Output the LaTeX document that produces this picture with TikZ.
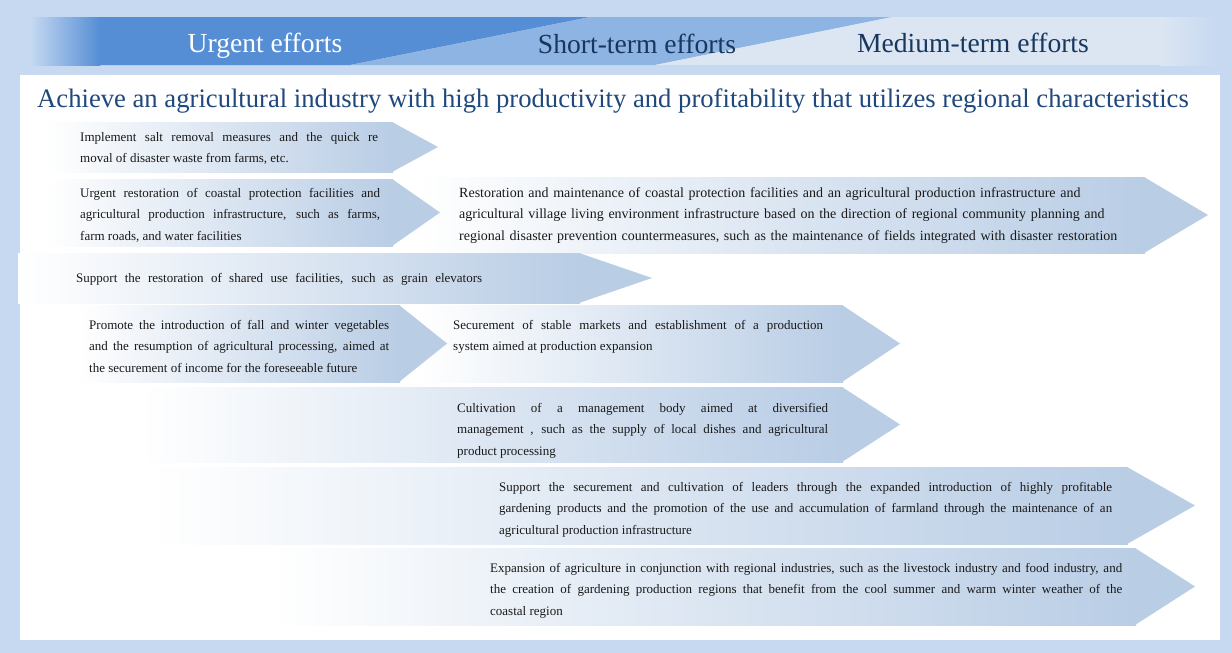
\documentclass[tikz,border=0pt]{standalone}
\usepackage{fontspec}
\setmainfont{Liberation Serif}
\usepackage{xcolor}
\usetikzlibrary{positioning}
\definecolor{pagebg}{HTML}{C6D9F1}
\definecolor{urgentblue}{HTML}{558ED5}
\definecolor{shortblue}{HTML}{8EB4E3}
\definecolor{mediumblue}{HTML}{DCE6F2}
\definecolor{arrowblue}{HTML}{B9CDE5}
\definecolor{titleblue}{HTML}{1F497D}
\definecolor{headnavy}{HTML}{17375E}

% arrow: left, top, body end, tip, bottom
\newcommand{\effortarrow}[5]{%
  \fill[arrowblue] (#3-1,#2) -- (#4,{(#2+#5)/2}) -- (#3-1,#5) -- cycle;
  \shade[left color=white,right color=arrowblue] (#1,#2) rectangle (#3,#5);}

\begin{document}
\begin{tikzpicture}[
    x=1pt,y=-1pt,
    headlabel/.style={anchor=base,inner sep=0pt,font=\fontsize{27.6}{30}\selectfont},
    measure/.style={anchor=base west,inner sep=0pt,align=justify,text=black!90,
      font=\fontsize{13}{21.7}\selectfont},
    oneline/.style={measure,execute at begin node={\parfillskip=0pt}}
]
\useasboundingbox (0,0) rectangle (1232,653);
\fill[pagebg] (0,0) rectangle (1232,653);

% Header band
\shade[left color=pagebg,right color=urgentblue] (30,17) rectangle (100,65);
\fill[urgentblue] (100,17) -- (590,17) -- (350,65) -- (100,65) -- cycle;
\fill[shortblue] (590,17) -- (892,17) -- (655,65) -- (350,65) -- cycle;
\fill[mediumblue] (892,17) -- (1160,17) -- (1160,65) -- (655,65) -- cycle;
\shade[left color=mediumblue,right color=pagebg] (1160,17) rectangle (1218,65);

\node[headlabel,text=white] (urgent) at (265,52) {Urgent efforts};
\node[headlabel,text=headnavy] (short) at (637,53) {Short-term efforts};
\node[headlabel,text=headnavy] (medium) at (973,52) {Medium-term efforts};

% Panel and goal
\fill[white] (20,75) rectangle (1220,640);
\node[anchor=base west,inner sep=0pt,text=titleblue,font=\fontsize{26.65}{28}\selectfont]
  (goal) at (37,107) {Achieve an agricultural industry with high productivity and profitability that utilizes regional characteristics};

% Arrows
\effortarrow{45}{122}{393}{438}{172}
\effortarrow{415}{177}{1145}{1208}{253}
\effortarrow{45}{179}{393}{440}{246}
\effortarrow{18}{253}{580}{652}{303}
\effortarrow{420}{305}{843}{900}{382}
\effortarrow{78}{305}{400}{447}{382}
\effortarrow{140}{387}{843}{900}{462}
\effortarrow{150}{467}{1128}{1195}{544}
\effortarrow{270}{548}{1136}{1195}{625}

% Measures
\node[measure,text width=298pt] (salt) at (80,141)
  {Implement salt removal measures and the quick re\linebreak moval of disaster waste from farms, etc.};
\node[measure,text width=300pt] (coast) at (80,197)
  {Urgent restoration of coastal protection facilities and\linebreak agricultural production infrastructure, such as farms,\linebreak farm roads, and water facilities};
\node[measure,text width=700pt,align=left,font=\fontsize{14}{21.7}\selectfont] (village) at (459,197)
  {Restoration and maintenance of coastal protection facilities and an agricultural production infrastructure and\\agricultural village living environment infrastructure based on the direction of regional community planning and\\regional disaster prevention countermeasures, such as the maintenance of fields integrated with disaster restoration};
\node[oneline,text width=406pt] (grain) at (76,282)
  {Support the restoration of shared use facilities, such as grain elevators};
\node[measure,text width=300pt] (veg) at (89,329)
  {Promote the introduction of fall and winter vegetables\linebreak and the resumption of agricultural processing, aimed at\linebreak the securement of income for the foreseeable future};
\node[measure,text width=370pt] (market) at (453,329)
  {Securement of stable markets and establishment of a production\linebreak system aimed at production expansion};
\node[measure,text width=371pt] (body) at (457,412)
  {Cultivation of a management body aimed at diversified\linebreak management , such as the supply of local dishes and agricultural\linebreak product processing};
\node[measure,text width=613pt] (leader) at (499,491)
  {Support the securement and cultivation of leaders through the expanded introduction of highly profitable\linebreak gardening products and the promotion of the use and accumulation of farmland through the maintenance of an\linebreak agricultural production infrastructure};
\node[measure,text width=632pt] (region) at (490,572)
  {Expansion of agriculture in conjunction with regional industries, such as the livestock industry and food industry, and\linebreak the creation of gardening production regions that benefit from the cool summer and warm winter weather of the\linebreak coastal region};

\end{tikzpicture}
\end{document}
